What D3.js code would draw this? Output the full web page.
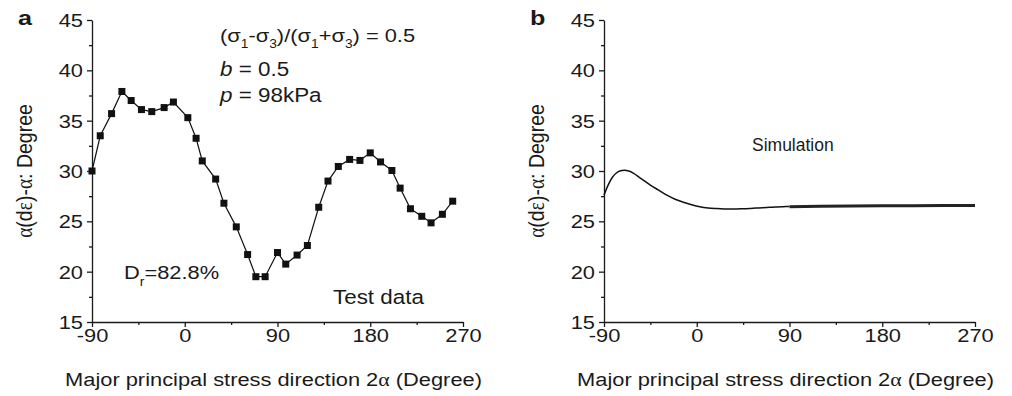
<!DOCTYPE html>
<html>
<head>
<meta charset="utf-8">
<script src="https://cdn.jsdelivr.net/npm/d3@7"></script>
<style>
  body { margin: 0; background: #fff; }
  svg { font-family: "Liberation Sans", Arial, sans-serif; }
  .axis path, .axis line { stroke: #1a1a1a; stroke-width: 1.3; }
  .axis text { font-size: 19px; fill: #1a1a1a; }
</style>
</head>
<body>
<svg width="1012" height="396"></svg>
<script>
// test data (panel a)
const testAngle = [-90, -82, -71, -61, -52, -42, -32, -20, -11, 3, 11, 17, 30, 38, 50, 61, 69, 78,
  90, 98, 109, 119, 130, 139, 149, 160, 170, 180, 190, 201, 209, 219, 230, 239, 250, 260]
const testValue = [30.0, 33.5, 35.7, 37.9, 37.0, 36.1, 35.9, 36.3, 36.85, 35.3, 33.25, 31.0, 29.2, 26.8,
  24.45, 21.7, 19.5, 19.5, 21.9, 20.75, 21.65, 22.6, 26.4, 29.0, 30.45, 31.15, 31.05, 31.8, 30.9,
  30.05, 28.3, 26.25, 25.5, 24.85, 25.7, 27.0]

// simulation (panel b)
const simAngle = [-90, -86, -82, -78, -74, -70, -66, -62, -54, -45, -37, -29, -21, -13, -5, 3, 11, 19, 27, 35, 43, 52, 60, 68, 76, 84, 90]
const simValue = [27.6, 28.6, 29.35, 29.8, 30.02, 30.08, 30.0, 29.82, 29.25, 28.6, 28.1, 27.6, 27.2, 26.9,
  26.65, 26.45, 26.33, 26.27, 26.23, 26.22, 26.24, 26.28, 26.33, 26.38, 26.43, 26.46, 26.48]
// noisy band after 90 degrees
const bandAngle = [90, 120, 150, 180, 210, 240, 270]
const bandValue = [26.45, 26.5, 26.53, 26.55, 26.56, 26.57, 26.58]

const yTicks = [15, 20, 25, 30, 35, 40, 45]
const yMinor = [17.5, 22.5, 27.5, 32.5, 37.5, 42.5]
const xTicks = [-90, 0, 90, 180, 270]
const xMinor = [-45, 45, 135, 225]

const SX = 1.15
const plotTop = 20, plotH = 302, plotW = 371
const svg = d3.select('svg')

function txt (g, x, y, size, sx = SX) {
  return g.append('text')
    .attr('transform', `translate(${x},${y}) scale(${sx},1)`)
    .style('font-size', size + 'px')
    .attr('fill', '#1a1a1a')
}

function panel (left, letter) {
  const g = svg.append('g').attr('transform', `translate(${left},${plotTop})`)
  const x = d3.scaleLinear().domain([-90, 270]).range([0, plotW])
  const y = d3.scaleLinear().domain([15, 45]).range([plotH, 0])

  const ya = g.append('g').attr('class', 'axis')
    .call(d3.axisLeft(y).tickValues(yTicks).tickFormat(String).tickSize(5).tickSizeOuter(0))
  ya.selectAll('text').attr('x', null).attr('dy', '0.35em')
    .attr('transform', `translate(-9,0) scale(${SX},1)`)
  g.append('g').attr('class', 'axis')
    .call(d3.axisLeft(y).tickValues(yMinor).tickSize(3).tickFormat(''))
    .select('.domain').remove()

  const xa = g.append('g').attr('class', 'axis')
    .attr('transform', `translate(0,${plotH})`)
    .call(d3.axisBottom(x).tickValues(xTicks).tickFormat(String).tickSize(5).tickSizeOuter(0))
  xa.selectAll('text').attr('y', null).attr('dy', '0.71em')
    .attr('transform', `translate(0,7) scale(${SX},1)`)
  g.append('g').attr('class', 'axis')
    .attr('transform', `translate(0,${plotH})`)
    .call(d3.axisBottom(x).tickValues(xMinor).tickSize(3).tickFormat(''))
    .select('.domain').remove()

  // axis titles
  const xt = txt(g, plotW / 2 - 4, plotH + 64, 19).attr('text-anchor', 'middle')
  xt.append('tspan').text('Major principal stress direction 2')
  xt.append('tspan').style('font-family', 'Liberation Serif, serif').text('α')
  xt.append('tspan').text(' (Degree)')

  const yt = g.append('text')
    .attr('transform', `translate(-60,${plotH / 2}) rotate(-90) scale(1,${SX})`)
    .attr('text-anchor', 'middle').style('font-size', '19.5px').attr('fill', '#1a1a1a')
  yt.append('tspan').style('font-family', 'Liberation Serif, serif').text('α')
  yt.append('tspan').text('(d')
  yt.append('tspan').style('font-family', 'Liberation Serif, serif').text('ε')
  yt.append('tspan').text(')-')
  yt.append('tspan').style('font-family', 'Liberation Serif, serif').text('α')
  yt.append('tspan').text(': Degree')

  txt(g, -74, 5, 21, 1.2).style('font-weight', 'bold').text(letter)
  return { g, x, y }
}

// panel a
const a = panel(92, 'a')
const lineA = d3.line().x((d, i) => a.x(testAngle[i])).y(d => a.y(d))
a.g.append('path').datum(testValue)
  .attr('d', lineA).attr('fill', 'none').attr('stroke', '#111').attr('stroke-width', 1.2)
a.g.selectAll('rect.pt').data(testValue).join('rect').attr('class', 'pt')
  .attr('x', (d, i) => a.x(testAngle[i]) - 3.5).attr('y', d => a.y(d) - 3.5)
  .attr('width', 7).attr('height', 7).attr('fill', '#111')

const l1 = txt(a.g, 128, 22, 19)
l1.append('tspan').text('(σ')
l1.append('tspan').attr('dy', 6).style('font-size', '12px').text('1')
l1.append('tspan').attr('dy', -6).text('-σ')
l1.append('tspan').attr('dy', 6).style('font-size', '12px').text('3')
l1.append('tspan').attr('dy', -6).text(')/(σ')
l1.append('tspan').attr('dy', 6).style('font-size', '12px').text('1')
l1.append('tspan').attr('dy', -6).text('+σ')
l1.append('tspan').attr('dy', 6).style('font-size', '12px').text('3')
l1.append('tspan').attr('dy', -6).text(') = 0.5')
const l2 = txt(a.g, 128, 56, 19.5)
l2.append('tspan').style('font-style', 'italic').text('b')
l2.append('tspan').text(' = 0.5')
const l3 = txt(a.g, 128, 82, 19.5)
l3.append('tspan').style('font-style', 'italic').text('p')
l3.append('tspan').text(' = 98kPa')

const dr = txt(a.g, 32, 259, 19)
dr.append('tspan').text('D')
dr.append('tspan').attr('dy', 7).style('font-size', '12px').text('r')
dr.append('tspan').attr('dy', -7).text('=82.8%')
txt(a.g, 241, 284, 19.5).text('Test data')

// panel b
const b = panel(604, 'b')
const lineB = d3.line().x((d, i) => b.x(simAngle[i])).y(d => b.y(d)).curve(d3.curveCatmullRom)
b.g.append('path').datum(simValue)
  .attr('d', lineB).attr('fill', 'none').attr('stroke', '#111').attr('stroke-width', 1.5)
const lineBand = d3.line().x((d, i) => b.x(bandAngle[i])).y(d => b.y(d))
b.g.append('path').datum(bandValue)
  .attr('d', lineBand).attr('fill', 'none').attr('stroke', '#222').attr('stroke-width', 3)
txt(b.g, 148, 131, 17.5, 1).text('Simulation')
</script>
</body>
</html>
